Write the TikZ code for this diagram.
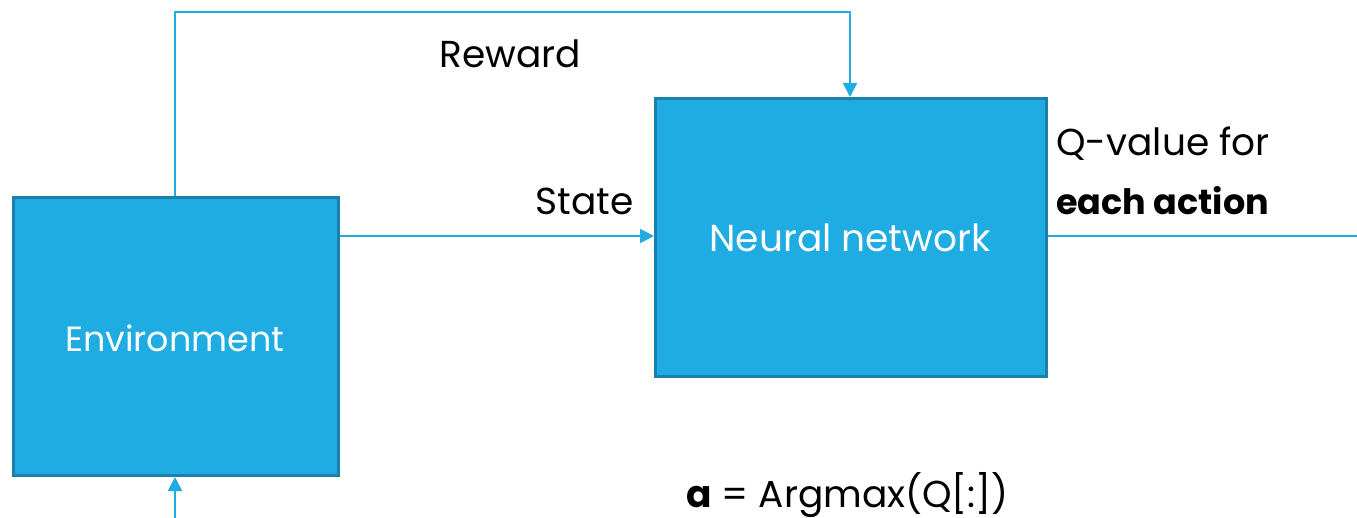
\documentclass[tikz,border=0pt]{standalone}
\usepackage{fontspec}
\setmainfont{Poppins}
\usetikzlibrary{arrows.meta}
\definecolor{boxfill}{HTML}{1FACE2}
\definecolor{boxline}{HTML}{1A80AC}
\definecolor{wire}{HTML}{1FACE2}
\tikzset{
  blockbox/.style={draw=boxline, line width=3pt, fill=boxfill, inner sep=0pt},
  conn/.style={draw=wire, line width=2pt, -{Triangle[length=14pt,width=14pt]}},
  plainconn/.style={draw=wire, line width=2pt},
  lbl/.style={font=\fontsize{37.5}{44}\selectfont, text=black, inner sep=0pt},
  inlbl/.style={font=\fontsize{37.5}{44}\selectfont, text=white, inner sep=0pt},
}
\begin{document}
\begin{tikzpicture}[x=1pt,y=-1pt]
\useasboundingbox (0,0) rectangle (1357,518);
\node[blockbox, minimum width=325pt, minimum height=278pt, anchor=north west] (env) at (12,196) {};
\node[inlbl, font=\fontsize{35}{42}\selectfont] (envtext) at (175,338) {Environment};
\node[blockbox, minimum width=391pt, minimum height=278pt, anchor=north west] (nn) at (654,97) {};
\node[inlbl] (nntext) at (850,238) {Neural network};
\coordinate (rtop1) at (175,12);
\coordinate (rtop2) at (850,12);
\coordinate (outend) at (1357,236);
\coordinate (botstart) at (175,518);
\draw[conn] (env.north -| rtop1) -- (rtop1) -- (rtop2) -- (nn.north -| rtop2);
\draw[conn] (env.east |- 0,236) -- (nn.west |- 0,236);
\draw[plainconn] (nn.east |- outend) -- (outend);
\draw[conn] (botstart) -- (env.south -| botstart);
\node[lbl, anchor=base] (reward) at (510,68) {Reward};
\node[lbl, anchor=base east] (state) at (634,215) {State};
\node[lbl, anchor=base west] (q1) at (1056,156) {Q-value for};
\node[lbl, anchor=base west, font=\fontsize{35}{42}\selectfont\bfseries] (q2) at (1056,215) {each action};
\node[lbl, anchor=base west] (argmax) at (686,507) {\textbf{a} = Argmax(Q[:])};
\end{tikzpicture}
\end{document}
